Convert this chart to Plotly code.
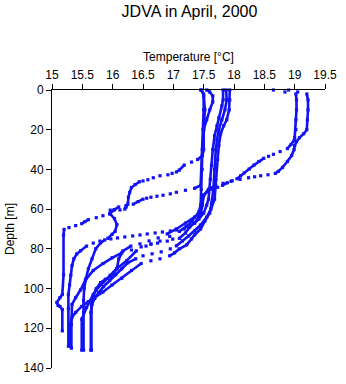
import plotly.graph_objects as go

# Temperature profiles (depth in m, temperature in degC), one per cast
cast1_depth = [0, 1, 2, 5, 10, 15, 20, 22, 24, 26, 28, 30, 33, 36, 39, 41, 42, 42.7, 43.2, 43.7, 44.2, 45, 46, 47, 48, 50, 53, 58, 62, 64, 67, 70, 72.5, 74.5, 76, 77.5, 78.6, 81, 85, 90, 92, 94, 95.3, 97, 100, 104, 108, 131]
cast1_temp = [18.9, 19.05, 19.2, 19.22, 19.22, 19.21, 19.2, 19.15, 19.08, 19.03, 19.0, 18.99, 18.95, 18.88, 18.8, 18.73, 18.68, 18.56, 18.44, 18.34, 18.24, 18.1, 17.95, 17.82, 17.7, 17.58, 17.5, 17.48, 17.45, 17.35, 17.2, 17.05, 16.9, 16.75, 16.6, 16.45, 16.3, 16.17, 16.1, 16.07, 16.02, 15.96, 15.88, 15.8, 15.73, 15.68, 15.65, 15.65]

cast2_depth = [0, 1, 2, 5, 10, 15, 20, 24, 25.5, 27.5, 29.5, 31, 32.4, 33.4, 34.4, 36, 37.8, 39.8, 41.7, 43.2, 44.7, 45.7, 46.7, 48, 49, 50, 51, 53, 60, 64, 67, 69, 70, 70.5, 71, 71.5, 72, 72.5, 73, 73.5, 74, 74.5, 75, 75.5, 77, 80, 85, 90, 95, 100, 106, 112, 131]
cast2_temp = [18.65, 18.84, 19.02, 19.03, 19.03, 19.02, 19.02, 19.0, 18.99, 18.94, 18.88, 18.76, 18.65, 18.57, 18.49, 18.41, 18.33, 18.25, 18.17, 18.11, 18.05, 17.97, 17.89, 17.81, 17.73, 17.65, 17.57, 17.5, 17.45, 17.42, 17.35, 17.25, 17.18, 17.05, 16.95, 16.82, 16.7, 16.57, 16.45, 16.33, 16.2, 16.08, 15.97, 15.87, 15.8, 15.72, 15.66, 15.6, 15.56, 15.53, 15.52, 15.52, 15.52]

cast3_depth = [0, 2, 10, 20, 30, 33, 35, 36.3, 37.8, 40.3, 41.3, 42, 42.7, 43.2, 44.2, 45.2, 45.8, 46.2, 47.6, 49.1, 51.6, 54, 57.5, 59, 60, 60.4, 60.2, 60.5, 62.4, 64.8, 67.8, 71.2, 72.7, 74.7, 76.1, 77.1, 78.6, 81, 82.5, 85, 88.4, 93.3, 98.2, 103, 110, 129]
cast3_temp = [17.45, 17.5, 17.52, 17.5, 17.5, 17.48, 17.4, 17.3, 17.18, 17.1, 17.05, 16.98, 16.91, 16.78, 16.67, 16.58, 16.5, 16.44, 16.37, 16.31, 16.28, 16.26, 16.25, 16.22, 16.2, 16.12, 16.03, 15.96, 15.96, 16.03, 16.07, 16.04, 15.99, 15.92, 15.79, 15.68, 15.57, 15.47, 15.41, 15.36, 15.33, 15.31, 15.29, 15.27, 15.27, 15.27]

cast4_depth = [0, 3, 10, 20, 30, 40, 48, 49.5, 50.5, 51.5, 52.3, 53, 53.5, 54, 54.5, 55, 56.2, 57.5, 58.2, 58.9, 60.5, 62.4, 63.3, 64.3, 65.3, 66.3, 67.3, 68.3, 69.3, 70.2, 73, 93, 103, 104.6, 107, 108.5, 109, 110.5, 121.3]
cast4_temp = [17.47, 17.5, 17.5, 17.49, 17.48, 17.47, 17.45, 17.35, 17.2, 17.05, 16.95, 16.83, 16.73, 16.63, 16.56, 16.5, 16.42, 16.34, 16.22, 16.1, 16.02, 15.95, 15.84, 15.73, 15.6, 15.54, 15.49, 15.39, 15.28, 15.2, 15.19, 15.19, 15.17, 15.13, 15.08, 15.1, 15.13, 15.17, 15.17]

cast5_depth = [0, 1, 3, 6, 10, 15, 20, 30, 40, 50, 58, 61.4, 66.3, 68.8, 71.2, 73.7, 76.1, 77.6, 79, 80.6, 82, 84.5, 87.4, 90.9, 95.8, 100.7, 104.6, 108, 118, 130]
cast5_temp = [17.55, 17.6, 17.65, 17.65, 17.6, 17.55, 17.5, 17.48, 17.47, 17.46, 17.45, 17.42, 17.3, 17.21, 17.1, 16.94, 16.78, 16.63, 16.47, 16.31, 16.15, 15.99, 15.84, 15.68, 15.55, 15.47, 15.39, 15.33, 15.32, 15.32]

cast6_depth = [0, 5, 8, 14, 18, 23, 30, 38, 45, 50, 55, 58, 62, 65, 67, 69, 72, 74.7, 75.1, 76.1, 77.1, 77.6, 78.6, 81, 86, 89.9, 93.3, 96.8, 100.7, 103, 109.5, 115.4, 131]
cast6_temp = [17.82, 17.82, 17.8, 17.75, 17.72, 17.68, 17.65, 17.63, 17.61, 17.6, 17.58, 17.55, 17.5, 17.42, 17.35, 17.27, 17.2, 17.1, 16.99, 16.9, 16.74, 16.63, 16.55, 16.39, 16.23, 16.07, 15.96, 15.84, 15.73, 15.68, 15.57, 15.49, 15.49]

cast7_depth = [0, 5, 10, 15, 20, 25, 30, 40, 50, 57, 62, 66, 70, 73, 75, 78, 80, 82, 83.5, 85, 86, 87.4, 90.9, 94.8, 98.2, 101.7, 104.6, 106.6, 109, 112, 114.4, 118, 129]
cast7_temp = [17.87, 17.88, 17.85, 17.8, 17.75, 17.72, 17.7, 17.68, 17.66, 17.63, 17.6, 17.52, 17.45, 17.35, 17.3, 17.22, 17.1, 17.02, 16.94, 16.78, 16.63, 16.47, 16.31, 16.15, 15.99, 15.84, 15.71, 15.6, 15.49, 15.39, 15.33, 15.3, 15.3]

cast8_depth = [0, 5, 10, 15, 18, 22, 28, 35, 45, 55, 60, 64, 68, 71, 73.5, 76, 78.5, 80, 81.5, 82.5, 83.5, 85, 87, 90, 93, 96, 99, 102, 105, 108, 112, 131]
cast8_temp = [17.93, 17.93, 17.92, 17.88, 17.83, 17.78, 17.75, 17.73, 17.7, 17.68, 17.62, 17.55, 17.45, 17.35, 17.25, 17.15, 17.05, 16.95, 16.8, 16.65, 16.5, 16.38, 16.25, 16.15, 16.05, 15.95, 15.85, 15.77, 15.7, 15.66, 15.64, 15.64]

casts = [
    (cast1_depth, cast1_temp), (cast2_depth, cast2_temp),
    (cast3_depth, cast3_temp), (cast4_depth, cast4_temp),
    (cast5_depth, cast5_temp), (cast6_depth, cast6_temp),
    (cast7_depth, cast7_temp), (cast8_depth, cast8_temp),
]

x_ticks = [15, 15.5, 16, 16.5, 17, 17.5, 18, 18.5, 19, 19.5]
x_ticktext = ["15", "15.5", "16", "16.5", "17", "17.5", "18", "18.5", "19", "19.5"]
y_ticks = [0, 20, 40, 60, 80, 100, 120, 140]

BLUE = "rgb(18,18,245)"
FONT = "Liberation Sans, Arial, sans-serif"

fig = go.Figure()
for depth, temp in casts:
    # dense segments drawn as a continuous run; steep (sparse) steps left as dots
    xs, ys = [], []
    for i in range(len(depth)):
        if i > 0:
            dd = abs(depth[i] - depth[i - 1])
            dt = abs(temp[i] - temp[i - 1])
            if dt > 0.06 * dd + 0.01:
                xs.append(None)
                ys.append(None)
        xs.append(temp[i])
        ys.append(depth[i])
    fig.add_trace(go.Scatter(
        x=xs, y=ys, mode="lines+markers", connectgaps=False,
        line=dict(color=BLUE, width=2.6),
        marker=dict(color=BLUE, size=3.2, symbol="square", line=dict(width=0)),
        showlegend=False, hoverinfo="skip", cliponaxis=False,
    ))

fig.update_layout(
    width=346, height=384,
    margin=dict(l=47, r=14, t=90, b=9),
    paper_bgcolor="white", plot_bgcolor="white",
    font=dict(family=FONT, size=12, color="black"),
    title=dict(text="JDVA in April, 2000", x=(189.5 / 346), xanchor="center",
               y=1 - 11 / 384, yanchor="middle", yref="container", xref="container",
               font=dict(family=FONT, size=16, color="black")),
    showlegend=False,
)
fig.update_xaxes(
    range=[15, 19.5], side="top", tickvals=x_ticks, ticktext=x_ticktext,
    showline=True, linecolor="black", linewidth=1, ticks="outside", ticklen=5,
    tickcolor="black", showgrid=False, zeroline=False,
    title=dict(text="Temperature [°C]", standoff=4, font=dict(size=12)),
    tickfont=dict(size=12),
)
fig.update_yaxes(
    range=[140, 0], tickvals=y_ticks,
    showline=True, linecolor="black", linewidth=1, ticks="outside", ticklen=5,
    tickcolor="black", showgrid=False, zeroline=False,
    title=dict(text="Depth [m]", standoff=6, font=dict(size=12)),
    tickfont=dict(size=12),
)

fig.write_html("out.html")
